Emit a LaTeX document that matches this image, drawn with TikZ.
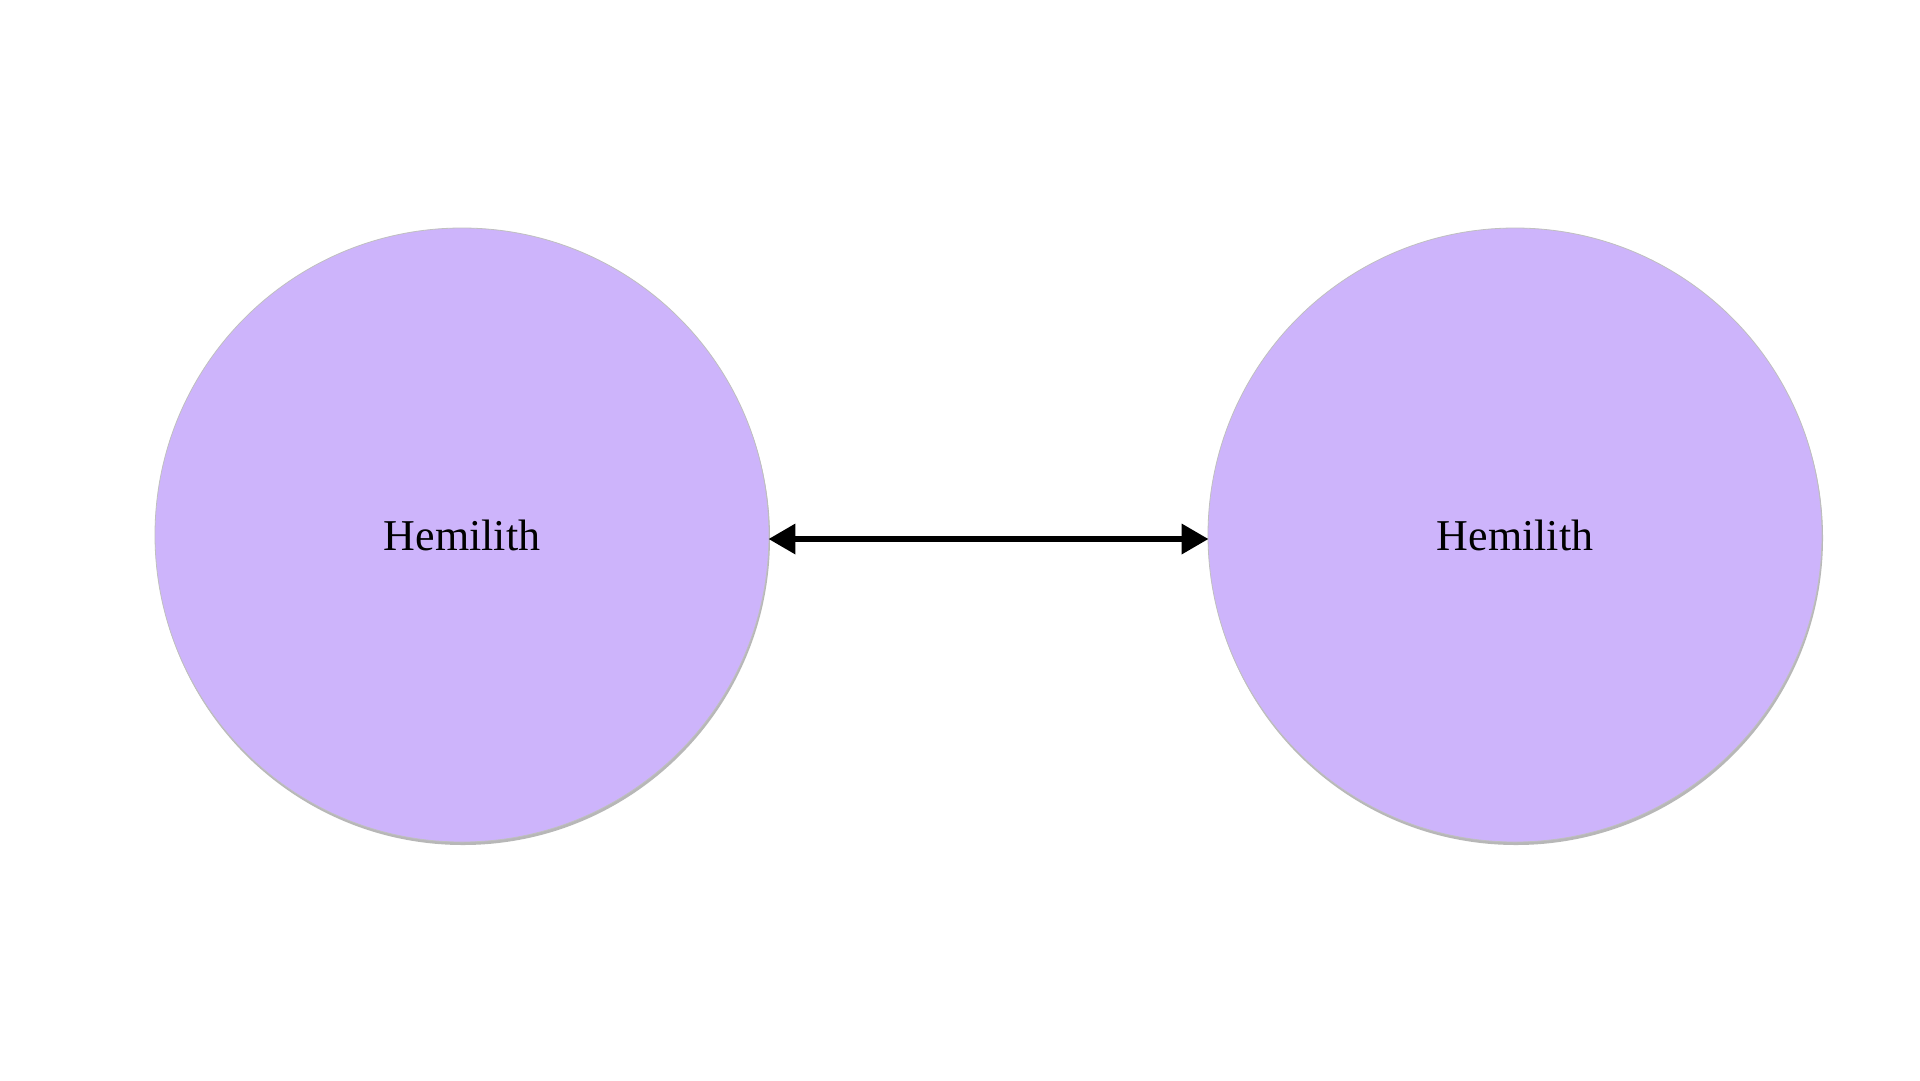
\documentclass[tikz,border=0pt]{standalone}
\usepackage{fontspec}
\setmainfont{Liberation Serif}
\usetikzlibrary{arrows.meta,shadows}
\definecolor{circfill}{HTML}{CDB4FB}
\tikzset{
  bubble/.style={circle, fill=circfill, draw=gray!50, line width=0.8pt, minimum size=614pt, inner sep=0pt,
    drop shadow={shadow xshift=1pt, shadow yshift=-3pt, fill=gray!80, opacity=0.7},
    font=\fontsize{44}{50}\selectfont},
  link/.style={line width=6.5pt, {Triangle[length=27pt,width=29pt]}-{Triangle[length=27pt,width=29pt]}}
}
\begin{document}
\begin{tikzpicture}[x=1pt,y=1pt]
\useasboundingbox[fill=white] (0,0) rectangle (1920,-1080);
\node[bubble] (a) at (462,-535) {Hemilith};
\node[bubble] (b) at (1515,-535) {Hemilith};
\draw[link, shorten <=-1pt, shorten >=-1pt] ([yshift=-4pt]a.east) -- ([yshift=-4pt]b.west);
\end{tikzpicture}
\end{document}
